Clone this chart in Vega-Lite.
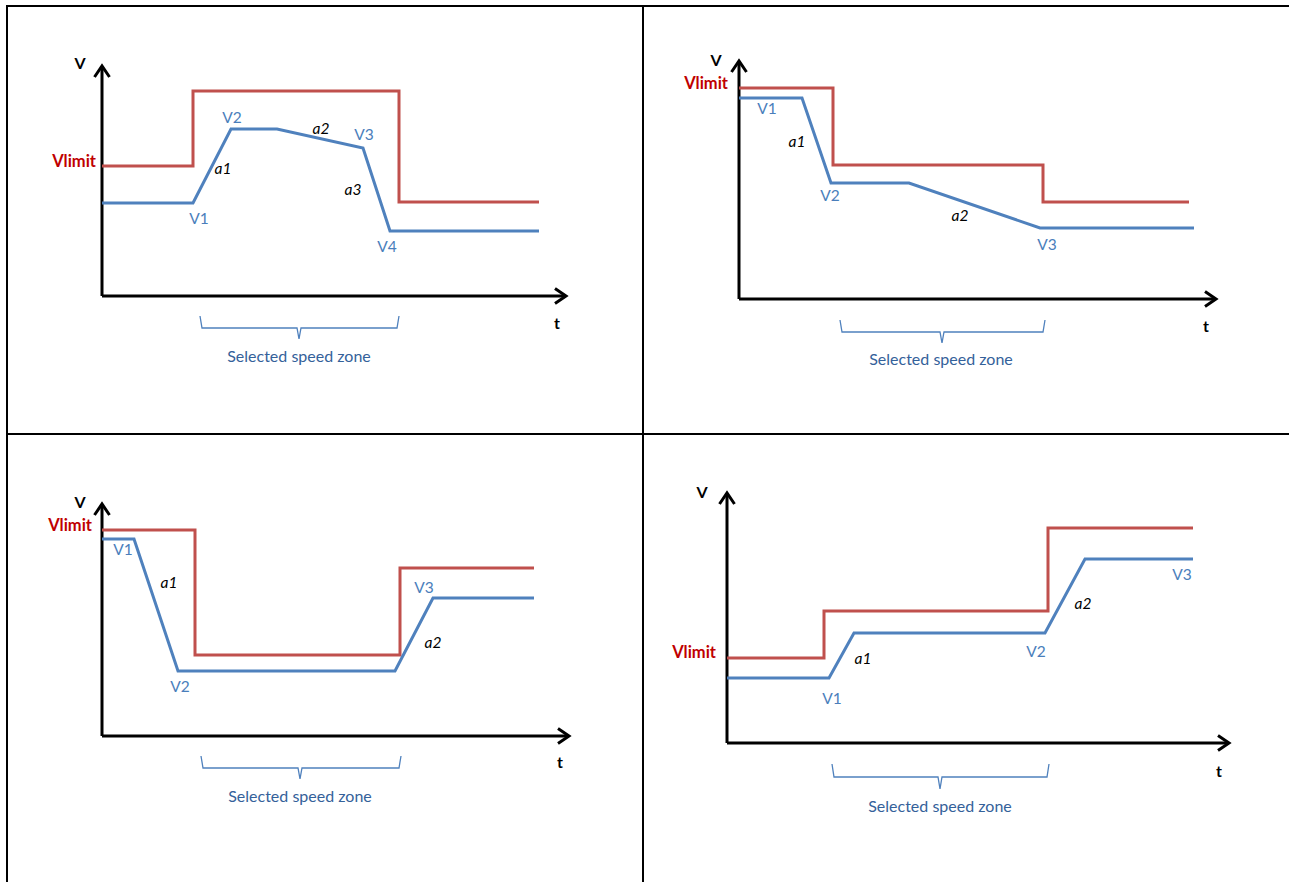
{
  "$schema": "https://vega.github.io/schema/vega-lite/v6.json",
  "padding": {"left": 6, "top": 5, "right": 0, "bottom": 0},
  "background": "white",
  "config": {"view": {"stroke": "black", "strokeWidth": 2}, "font": "Lato"},
  "columns": 2,
  "spacing": 0,
  "bounds": "flush",
  "resolve": {"scale": {"x": "independent", "y": "independent"}},
  "datasets": {
    "all": [
      {"p": 1, "k": "axis", "t": 0, "v": 0, "t2": 0, "v2": 229},
      {"p": 1, "k": "axis", "t": 0, "v": 0, "t2": 463, "v2": 0},
      {"p": 1, "k": "up", "t": 0, "v": 230},
      {"p": 1, "k": "right", "t": 464, "v": 0},
      {"p": 1, "k": "lim", "o": 1, "t": 0, "v": 130},
      {"p": 1, "k": "lim", "o": 2, "t": 91, "v": 130},
      {"p": 1, "k": "lim", "o": 3, "t": 91, "v": 205},
      {"p": 1, "k": "lim", "o": 4, "t": 297, "v": 205},
      {"p": 1, "k": "lim", "o": 5, "t": 297, "v": 94},
      {"p": 1, "k": "lim", "o": 6, "t": 437, "v": 94},
      {"p": 1, "k": "spd", "o": 1, "t": 0, "v": 93},
      {"p": 1, "k": "spd", "o": 2, "t": 91, "v": 93},
      {"p": 1, "k": "spd", "o": 3, "t": 129, "v": 167},
      {"p": 1, "k": "spd", "o": 4, "t": 175, "v": 167},
      {"p": 1, "k": "spd", "o": 5, "t": 261, "v": 148},
      {"p": 1, "k": "spd", "o": 6, "t": 288, "v": 65},
      {"p": 1, "k": "spd", "o": 7, "t": 437, "v": 65},
      {"p": 1, "k": "brace", "o": 1, "t": 98, "v": -20},
      {"p": 1, "k": "brace", "o": 2, "t": 100, "v": -32},
      {"p": 1, "k": "brace", "o": 3, "t": 195, "v": -32},
      {"p": 1, "k": "brace", "o": 4, "t": 197, "v": -43},
      {"p": 1, "k": "brace", "o": 5, "t": 199, "v": -32},
      {"p": 1, "k": "brace", "o": 6, "t": 295, "v": -32},
      {"p": 1, "k": "brace", "o": 7, "t": 297, "v": -20},
      {"p": 1, "k": "ax", "txt": "V", "t": -22, "v": 232},
      {"p": 1, "k": "ax", "txt": "t", "t": 455, "v": -28},
      {"p": 1, "k": "vl", "txt": "Vlimit", "t": -6, "v": 134},
      {"p": 1, "k": "val", "txt": "V1", "t": 97, "v": 77},
      {"p": 1, "k": "val", "txt": "V2", "t": 130, "v": 178},
      {"p": 1, "k": "val", "txt": "V3", "t": 262, "v": 161},
      {"p": 1, "k": "val", "txt": "V4", "t": 285, "v": 49},
      {"p": 1, "k": "acc", "txt": "a1", "t": 121, "v": 127},
      {"p": 1, "k": "acc", "txt": "a2", "t": 219, "v": 167},
      {"p": 1, "k": "acc", "txt": "a3", "t": 251, "v": 106},
      {"p": 1, "k": "zone", "txt": "Selected speed zone", "t": 197, "v": -61},

      {"p": 2, "k": "axis", "t": 0, "v": 0, "t2": 0, "v2": 237},
      {"p": 2, "k": "axis", "t": 0, "v": 0, "t2": 476, "v2": 0},
      {"p": 2, "k": "up", "t": 0, "v": 238},
      {"p": 2, "k": "right", "t": 477, "v": 0},
      {"p": 2, "k": "lim", "o": 1, "t": 0, "v": 211},
      {"p": 2, "k": "lim", "o": 2, "t": 94, "v": 211},
      {"p": 2, "k": "lim", "o": 3, "t": 94, "v": 134},
      {"p": 2, "k": "lim", "o": 4, "t": 304, "v": 134},
      {"p": 2, "k": "lim", "o": 5, "t": 304, "v": 97},
      {"p": 2, "k": "lim", "o": 6, "t": 450, "v": 97},
      {"p": 2, "k": "spd", "o": 1, "t": 0, "v": 201},
      {"p": 2, "k": "spd", "o": 2, "t": 63, "v": 201},
      {"p": 2, "k": "spd", "o": 3, "t": 92, "v": 116},
      {"p": 2, "k": "spd", "o": 4, "t": 170, "v": 116},
      {"p": 2, "k": "spd", "o": 5, "t": 301, "v": 71},
      {"p": 2, "k": "spd", "o": 6, "t": 455, "v": 71},
      {"p": 2, "k": "brace", "o": 1, "t": 101, "v": -21},
      {"p": 2, "k": "brace", "o": 2, "t": 103, "v": -33},
      {"p": 2, "k": "brace", "o": 3, "t": 201, "v": -33},
      {"p": 2, "k": "brace", "o": 4, "t": 203, "v": -44},
      {"p": 2, "k": "brace", "o": 5, "t": 205, "v": -33},
      {"p": 2, "k": "brace", "o": 6, "t": 304, "v": -33},
      {"p": 2, "k": "brace", "o": 7, "t": 306, "v": -21},
      {"p": 2, "k": "ax", "txt": "V", "t": -23, "v": 238},
      {"p": 2, "k": "ax", "txt": "t", "t": 467, "v": -28},
      {"p": 2, "k": "vl", "txt": "Vlimit", "t": -11, "v": 215},
      {"p": 2, "k": "val", "txt": "V1", "t": 28, "v": 190},
      {"p": 2, "k": "val", "txt": "V2", "t": 91, "v": 103},
      {"p": 2, "k": "val", "txt": "V3", "t": 308, "v": 54},
      {"p": 2, "k": "acc", "txt": "a1", "t": 58, "v": 157},
      {"p": 2, "k": "acc", "txt": "a2", "t": 221, "v": 83},
      {"p": 2, "k": "zone", "txt": "Selected speed zone", "t": 202, "v": -61},

      {"p": 3, "k": "axis", "t": 0, "v": 0, "t2": 0, "v2": 231},
      {"p": 3, "k": "axis", "t": 0, "v": 0, "t2": 466, "v2": 0},
      {"p": 3, "k": "up", "t": 0, "v": 232},
      {"p": 3, "k": "right", "t": 467, "v": 0},
      {"p": 3, "k": "lim", "o": 1, "t": 0, "v": 206},
      {"p": 3, "k": "lim", "o": 2, "t": 93, "v": 206},
      {"p": 3, "k": "lim", "o": 3, "t": 93, "v": 81},
      {"p": 3, "k": "lim", "o": 4, "t": 298, "v": 81},
      {"p": 3, "k": "lim", "o": 5, "t": 298, "v": 168},
      {"p": 3, "k": "lim", "o": 6, "t": 432, "v": 168},
      {"p": 3, "k": "spd", "o": 1, "t": 0, "v": 197},
      {"p": 3, "k": "spd", "o": 2, "t": 32, "v": 197},
      {"p": 3, "k": "spd", "o": 3, "t": 76, "v": 65},
      {"p": 3, "k": "spd", "o": 4, "t": 293, "v": 65},
      {"p": 3, "k": "spd", "o": 5, "t": 331, "v": 138},
      {"p": 3, "k": "spd", "o": 6, "t": 432, "v": 138},
      {"p": 3, "k": "brace", "o": 1, "t": 99, "v": -20},
      {"p": 3, "k": "brace", "o": 2, "t": 101, "v": -32},
      {"p": 3, "k": "brace", "o": 3, "t": 196, "v": -32},
      {"p": 3, "k": "brace", "o": 4, "t": 198, "v": -43},
      {"p": 3, "k": "brace", "o": 5, "t": 200, "v": -32},
      {"p": 3, "k": "brace", "o": 6, "t": 297, "v": -32},
      {"p": 3, "k": "brace", "o": 7, "t": 299, "v": -20},
      {"p": 3, "k": "ax", "txt": "V", "t": -22, "v": 233},
      {"p": 3, "k": "ax", "txt": "t", "t": 458, "v": -27},
      {"p": 3, "k": "vl", "txt": "Vlimit", "t": -10, "v": 210},
      {"p": 3, "k": "val", "txt": "V1", "t": 21, "v": 186},
      {"p": 3, "k": "val", "txt": "V2", "t": 78, "v": 49},
      {"p": 3, "k": "val", "txt": "V3", "t": 322, "v": 148},
      {"p": 3, "k": "acc", "txt": "a1", "t": 67, "v": 153},
      {"p": 3, "k": "acc", "txt": "a2", "t": 331, "v": 93},
      {"p": 3, "k": "zone", "txt": "Selected speed zone", "t": 198, "v": -61},

      {"p": 4, "k": "axis", "t": 0, "v": 0, "t2": 0, "v2": 249},
      {"p": 4, "k": "axis", "t": 0, "v": 0, "t2": 501, "v2": 0},
      {"p": 4, "k": "up", "t": 0, "v": 250},
      {"p": 4, "k": "right", "t": 502, "v": 0},
      {"p": 4, "k": "lim", "o": 1, "t": 0, "v": 85},
      {"p": 4, "k": "lim", "o": 2, "t": 97, "v": 85},
      {"p": 4, "k": "lim", "o": 3, "t": 97, "v": 132},
      {"p": 4, "k": "lim", "o": 4, "t": 321, "v": 132},
      {"p": 4, "k": "lim", "o": 5, "t": 321, "v": 215},
      {"p": 4, "k": "lim", "o": 6, "t": 466, "v": 215},
      {"p": 4, "k": "spd", "o": 1, "t": 0, "v": 65},
      {"p": 4, "k": "spd", "o": 2, "t": 102, "v": 65},
      {"p": 4, "k": "spd", "o": 3, "t": 127, "v": 110},
      {"p": 4, "k": "spd", "o": 4, "t": 318, "v": 110},
      {"p": 4, "k": "spd", "o": 5, "t": 358, "v": 184},
      {"p": 4, "k": "spd", "o": 6, "t": 466, "v": 184},
      {"p": 4, "k": "brace", "o": 1, "t": 105, "v": -21},
      {"p": 4, "k": "brace", "o": 2, "t": 107, "v": -34},
      {"p": 4, "k": "brace", "o": 3, "t": 211, "v": -34},
      {"p": 4, "k": "brace", "o": 4, "t": 213, "v": -46},
      {"p": 4, "k": "brace", "o": 5, "t": 215, "v": -34},
      {"p": 4, "k": "brace", "o": 6, "t": 320, "v": -34},
      {"p": 4, "k": "brace", "o": 7, "t": 322, "v": -21},
      {"p": 4, "k": "ax", "txt": "V", "t": -25, "v": 250},
      {"p": 4, "k": "ax", "txt": "t", "t": 492, "v": -29},
      {"p": 4, "k": "vl", "txt": "Vlimit", "t": -11, "v": 90},
      {"p": 4, "k": "val", "txt": "V1", "t": 105, "v": 44},
      {"p": 4, "k": "val", "txt": "V2", "t": 309, "v": 91},
      {"p": 4, "k": "val", "txt": "V3", "t": 455, "v": 168},
      {"p": 4, "k": "acc", "txt": "a1", "t": 136, "v": 84},
      {"p": 4, "k": "acc", "txt": "a2", "t": 356, "v": 139},
      {"p": 4, "k": "zone", "txt": "Selected speed zone", "t": 213, "v": -64}
    ]
  },
  "concat": [
    {
      "width": 636, "height": 428,
      "data": {"name": "all"},
      "transform": [{"filter": "datum.p == 1"}],
      "encoding": {
        "x": {"field": "t", "type": "quantitative", "scale": {"domain": [-95, 541], "nice": false, "zero": false}, "axis": null},
        "y": {"field": "v", "type": "quantitative", "scale": {"domain": [-138, 290], "nice": false, "zero": false}, "axis": null}
      },
      "layer": [
        {"transform": [{"filter": "datum.k == 'axis'"}], "mark": {"type": "rule", "color": "black", "strokeWidth": 3}, "encoding": {"x2": {"field": "t2"}, "y2": {"field": "v2"}}},
        {"transform": [{"filter": "datum.k == 'up'"}], "mark": {"type": "point", "shape": "M -0.75 1.1 L 0 0 L 0.75 1.1", "size": 400, "filled": false, "color": "black", "strokeWidth": 3, "opacity": 1}},
        {"transform": [{"filter": "datum.k == 'right'"}], "mark": {"type": "point", "shape": "M -1.1 -0.75 L 0 0 L -1.1 0.75", "size": 400, "filled": false, "color": "black", "strokeWidth": 3, "opacity": 1}},
        {"transform": [{"filter": "datum.k == 'lim'"}], "mark": {"type": "line", "color": "#C0504D", "strokeWidth": 3}, "encoding": {"order": {"field": "o"}}},
        {"transform": [{"filter": "datum.k == 'spd'"}], "mark": {"type": "line", "color": "#4F81BD", "strokeWidth": 3}, "encoding": {"order": {"field": "o"}}},
        {"transform": [{"filter": "datum.k == 'brace'"}], "mark": {"type": "line", "color": "#4F81BD", "strokeWidth": 1.3}, "encoding": {"order": {"field": "o"}}},
        {"transform": [{"filter": "datum.k == 'ax'"}], "mark": {"type": "text", "fontSize": 16, "fontWeight": "bold", "color": "black", "baseline": "middle"}, "encoding": {"text": {"field": "txt"}}},
        {"transform": [{"filter": "datum.k == 'vl'"}], "mark": {"type": "text", "fontSize": 16.5, "fontWeight": "bold", "color": "#C00000", "align": "right", "baseline": "middle"}, "encoding": {"text": {"field": "txt"}}},
        {"transform": [{"filter": "datum.k == 'val'"}], "mark": {"type": "text", "fontSize": 15.5, "color": "#4A7EBB", "baseline": "middle"}, "encoding": {"text": {"field": "txt"}}},
        {"transform": [{"filter": "datum.k == 'acc'"}], "mark": {"type": "text", "fontSize": 15.5, "fontStyle": "italic", "color": "black", "baseline": "middle"}, "encoding": {"text": {"field": "txt"}}},
        {"transform": [{"filter": "datum.k == 'zone'"}], "mark": {"type": "text", "fontSize": 16, "color": "#34619A", "baseline": "middle"}, "encoding": {"text": {"field": "txt"}}}
      ]
    },
    {
      "width": 658, "height": 428,
      "data": {"name": "all"},
      "transform": [{"filter": "datum.p == 2"}],
      "encoding": {
        "x": {"field": "t", "type": "quantitative", "scale": {"domain": [-96, 562], "nice": false, "zero": false}, "axis": null},
        "y": {"field": "v", "type": "quantitative", "scale": {"domain": [-135, 293], "nice": false, "zero": false}, "axis": null}
      },
      "layer": [
        {"transform": [{"filter": "datum.k == 'axis'"}], "mark": {"type": "rule", "color": "black", "strokeWidth": 3}, "encoding": {"x2": {"field": "t2"}, "y2": {"field": "v2"}}},
        {"transform": [{"filter": "datum.k == 'up'"}], "mark": {"type": "point", "shape": "M -0.75 1.1 L 0 0 L 0.75 1.1", "size": 400, "filled": false, "color": "black", "strokeWidth": 3, "opacity": 1}},
        {"transform": [{"filter": "datum.k == 'right'"}], "mark": {"type": "point", "shape": "M -1.1 -0.75 L 0 0 L -1.1 0.75", "size": 400, "filled": false, "color": "black", "strokeWidth": 3, "opacity": 1}},
        {"transform": [{"filter": "datum.k == 'lim'"}], "mark": {"type": "line", "color": "#C0504D", "strokeWidth": 3}, "encoding": {"order": {"field": "o"}}},
        {"transform": [{"filter": "datum.k == 'spd'"}], "mark": {"type": "line", "color": "#4F81BD", "strokeWidth": 3}, "encoding": {"order": {"field": "o"}}},
        {"transform": [{"filter": "datum.k == 'brace'"}], "mark": {"type": "line", "color": "#4F81BD", "strokeWidth": 1.3}, "encoding": {"order": {"field": "o"}}},
        {"transform": [{"filter": "datum.k == 'ax'"}], "mark": {"type": "text", "fontSize": 16, "fontWeight": "bold", "color": "black", "baseline": "middle"}, "encoding": {"text": {"field": "txt"}}},
        {"transform": [{"filter": "datum.k == 'vl'"}], "mark": {"type": "text", "fontSize": 16.5, "fontWeight": "bold", "color": "#C00000", "align": "right", "baseline": "middle"}, "encoding": {"text": {"field": "txt"}}},
        {"transform": [{"filter": "datum.k == 'val'"}], "mark": {"type": "text", "fontSize": 15.5, "color": "#4A7EBB", "baseline": "middle"}, "encoding": {"text": {"field": "txt"}}},
        {"transform": [{"filter": "datum.k == 'acc'"}], "mark": {"type": "text", "fontSize": 15.5, "fontStyle": "italic", "color": "black", "baseline": "middle"}, "encoding": {"text": {"field": "txt"}}},
        {"transform": [{"filter": "datum.k == 'zone'"}], "mark": {"type": "text", "fontSize": 16, "color": "#34619A", "baseline": "middle"}, "encoding": {"text": {"field": "txt"}}}
      ]
    },
    {
      "width": 636, "height": 457,
      "data": {"name": "all"},
      "transform": [{"filter": "datum.p == 3"}],
      "encoding": {
        "x": {"field": "t", "type": "quantitative", "scale": {"domain": [-95, 541], "nice": false, "zero": false}, "axis": null},
        "y": {"field": "v", "type": "quantitative", "scale": {"domain": [-155, 302], "nice": false, "zero": false}, "axis": null}
      },
      "layer": [
        {"transform": [{"filter": "datum.k == 'axis'"}], "mark": {"type": "rule", "color": "black", "strokeWidth": 3}, "encoding": {"x2": {"field": "t2"}, "y2": {"field": "v2"}}},
        {"transform": [{"filter": "datum.k == 'up'"}], "mark": {"type": "point", "shape": "M -0.75 1.1 L 0 0 L 0.75 1.1", "size": 400, "filled": false, "color": "black", "strokeWidth": 3, "opacity": 1}},
        {"transform": [{"filter": "datum.k == 'right'"}], "mark": {"type": "point", "shape": "M -1.1 -0.75 L 0 0 L -1.1 0.75", "size": 400, "filled": false, "color": "black", "strokeWidth": 3, "opacity": 1}},
        {"transform": [{"filter": "datum.k == 'lim'"}], "mark": {"type": "line", "color": "#C0504D", "strokeWidth": 3}, "encoding": {"order": {"field": "o"}}},
        {"transform": [{"filter": "datum.k == 'spd'"}], "mark": {"type": "line", "color": "#4F81BD", "strokeWidth": 3}, "encoding": {"order": {"field": "o"}}},
        {"transform": [{"filter": "datum.k == 'brace'"}], "mark": {"type": "line", "color": "#4F81BD", "strokeWidth": 1.3}, "encoding": {"order": {"field": "o"}}},
        {"transform": [{"filter": "datum.k == 'ax'"}], "mark": {"type": "text", "fontSize": 16, "fontWeight": "bold", "color": "black", "baseline": "middle"}, "encoding": {"text": {"field": "txt"}}},
        {"transform": [{"filter": "datum.k == 'vl'"}], "mark": {"type": "text", "fontSize": 16.5, "fontWeight": "bold", "color": "#C00000", "align": "right", "baseline": "middle"}, "encoding": {"text": {"field": "txt"}}},
        {"transform": [{"filter": "datum.k == 'val'"}], "mark": {"type": "text", "fontSize": 15.5, "color": "#4A7EBB", "baseline": "middle"}, "encoding": {"text": {"field": "txt"}}},
        {"transform": [{"filter": "datum.k == 'acc'"}], "mark": {"type": "text", "fontSize": 15.5, "fontStyle": "italic", "color": "black", "baseline": "middle"}, "encoding": {"text": {"field": "txt"}}},
        {"transform": [{"filter": "datum.k == 'zone'"}], "mark": {"type": "text", "fontSize": 16, "color": "#34619A", "baseline": "middle"}, "encoding": {"text": {"field": "txt"}}}
      ]
    },
    {
      "width": 658, "height": 457,
      "data": {"name": "all"},
      "transform": [{"filter": "datum.p == 4"}],
      "encoding": {
        "x": {"field": "t", "type": "quantitative", "scale": {"domain": [-84, 574], "nice": false, "zero": false}, "axis": null},
        "y": {"field": "v", "type": "quantitative", "scale": {"domain": [-148, 309], "nice": false, "zero": false}, "axis": null}
      },
      "layer": [
        {"transform": [{"filter": "datum.k == 'axis'"}], "mark": {"type": "rule", "color": "black", "strokeWidth": 3}, "encoding": {"x2": {"field": "t2"}, "y2": {"field": "v2"}}},
        {"transform": [{"filter": "datum.k == 'up'"}], "mark": {"type": "point", "shape": "M -0.75 1.1 L 0 0 L 0.75 1.1", "size": 400, "filled": false, "color": "black", "strokeWidth": 3, "opacity": 1}},
        {"transform": [{"filter": "datum.k == 'right'"}], "mark": {"type": "point", "shape": "M -1.1 -0.75 L 0 0 L -1.1 0.75", "size": 400, "filled": false, "color": "black", "strokeWidth": 3, "opacity": 1}},
        {"transform": [{"filter": "datum.k == 'lim'"}], "mark": {"type": "line", "color": "#C0504D", "strokeWidth": 3}, "encoding": {"order": {"field": "o"}}},
        {"transform": [{"filter": "datum.k == 'spd'"}], "mark": {"type": "line", "color": "#4F81BD", "strokeWidth": 3}, "encoding": {"order": {"field": "o"}}},
        {"transform": [{"filter": "datum.k == 'brace'"}], "mark": {"type": "line", "color": "#4F81BD", "strokeWidth": 1.3}, "encoding": {"order": {"field": "o"}}},
        {"transform": [{"filter": "datum.k == 'ax'"}], "mark": {"type": "text", "fontSize": 16, "fontWeight": "bold", "color": "black", "baseline": "middle"}, "encoding": {"text": {"field": "txt"}}},
        {"transform": [{"filter": "datum.k == 'vl'"}], "mark": {"type": "text", "fontSize": 16.5, "fontWeight": "bold", "color": "#C00000", "align": "right", "baseline": "middle"}, "encoding": {"text": {"field": "txt"}}},
        {"transform": [{"filter": "datum.k == 'val'"}], "mark": {"type": "text", "fontSize": 15.5, "color": "#4A7EBB", "baseline": "middle"}, "encoding": {"text": {"field": "txt"}}},
        {"transform": [{"filter": "datum.k == 'acc'"}], "mark": {"type": "text", "fontSize": 15.5, "fontStyle": "italic", "color": "black", "baseline": "middle"}, "encoding": {"text": {"field": "txt"}}},
        {"transform": [{"filter": "datum.k == 'zone'"}], "mark": {"type": "text", "fontSize": 16, "color": "#34619A", "baseline": "middle"}, "encoding": {"text": {"field": "txt"}}}
      ]
    }
  ]
}
